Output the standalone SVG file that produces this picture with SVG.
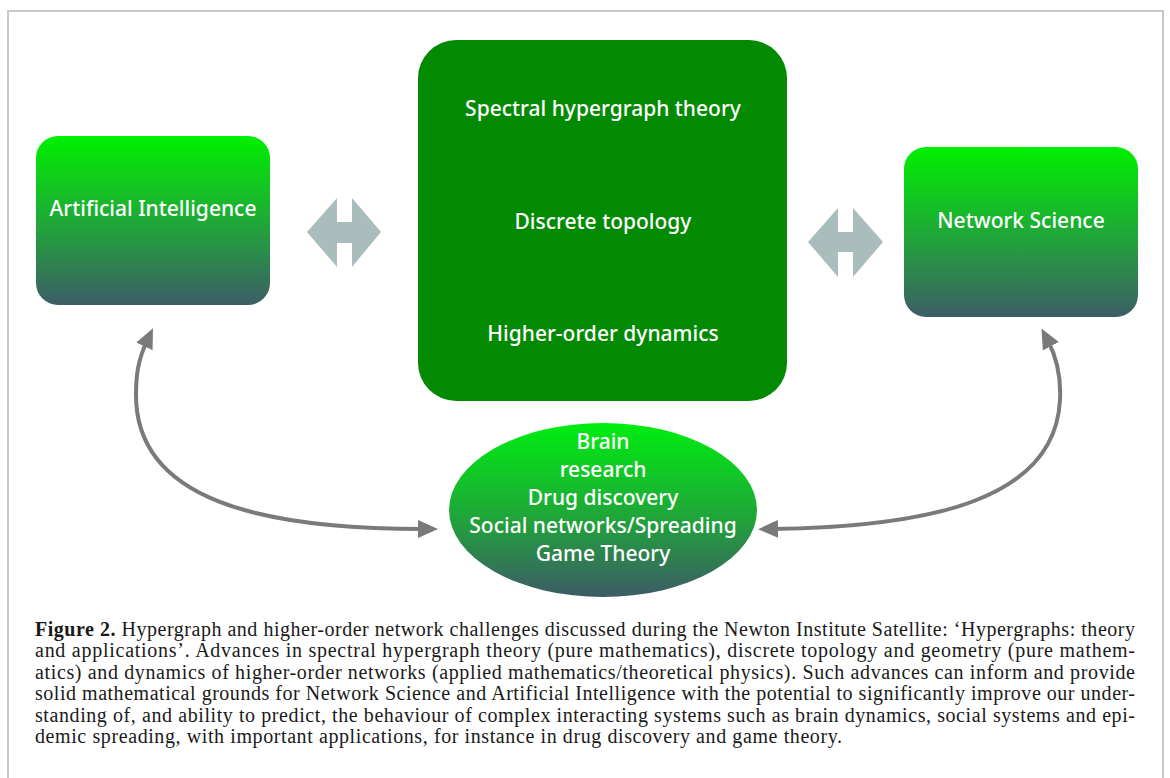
<svg xmlns="http://www.w3.org/2000/svg" width="1170" height="778" viewBox="0 0 1170 778">
<style>
.node-text{font-family:"Noto Sans","Open Sans",sans-serif;font-size:21px;fill:#ffffff;text-anchor:middle;font-weight:500}
.ell-text{font-family:"Noto Sans","Open Sans",sans-serif;font-size:21px;fill:#ffffff;text-anchor:middle;font-weight:500}
.cap{font-family:"Liberation Serif","Times New Roman",serif;font-size:20px;fill:#1a1a1a}
.curve{fill:none;stroke:#7a7a7a;stroke-width:4}
.dbl{fill:#a9bdbd}
</style>
<defs>
<linearGradient id="boxGrad" x1="0" y1="0" x2="0" y2="1">
<stop offset="0" stop-color="#00f000"/>
<stop offset="0.55" stop-color="#22a23c"/>
<stop offset="1" stop-color="#3d5d66"/>
</linearGradient>
<linearGradient id="ellGrad" x1="0" y1="0" x2="0" y2="1">
<stop offset="0" stop-color="#00ee10"/>
<stop offset="0.55" stop-color="#20a43a"/>
<stop offset="1" stop-color="#3d5b66"/>
</linearGradient>
<marker id="arrow" viewBox="0 0 20 20" markerWidth="20" markerHeight="20" markerUnits="userSpaceOnUse" refX="6" refY="10" orient="auto-start-reverse">
<path d="M0,1 L20,10 L0,19 z" fill="#7a7a7a"/>
</marker>
</defs>
<rect x="0" y="0" width="1170" height="778" fill="#ffffff"/>
<path d="M8 790 L8 11 L1163 11 L1163 790" fill="none" stroke="#c8c8c8" stroke-width="2"/>

<g id="connectors">
<path class="curve" d="M147 341 C138 360 136 375 136 395 C136 500 260 529 424 529" marker-start="url(#arrow)" marker-end="url(#arrow)"/>
<path class="curve" d="M1048 341 C1058 360 1061 380 1060 400 C1055 500 930 527 772 529" marker-start="url(#arrow)" marker-end="url(#arrow)"/>
<polygon class="dbl" points="307,232 337,198 337,222 352,222 352,198 381,232 352,267 352,243 337,243 337,267"/>
<polygon class="dbl" points="808,242 838,208 838,232 853,232 853,208 883,242 853,277 853,252 838,252 838,277"/>
</g>

<g id="node-ai">
<rect x="36" y="136" width="234" height="169" rx="22" fill="url(#boxGrad)"/>
<text class="node-text" x="153" y="216">Artificial Intelligence</text>
</g>

<g id="node-center">
<rect x="418" y="40" width="369" height="361" rx="38" fill="#038a03"/>
<text class="node-text" x="603" y="116">Spectral hypergraph theory</text>
<text class="node-text" x="603" y="229">Discrete topology</text>
<text class="node-text" x="603" y="341">Higher-order dynamics</text>
</g>

<g id="node-ns">
<rect x="904" y="147" width="234" height="170" rx="22" fill="url(#boxGrad)"/>
<text class="node-text" x="1021" y="228">Network Science</text>
</g>

<g id="node-applications">
<ellipse cx="603" cy="510" rx="154" ry="87" fill="url(#ellGrad)"/>
<text class="ell-text" x="603" y="449">Brain</text>
<text class="ell-text" x="603" y="477">research</text>
<text class="ell-text" x="603" y="505">Drug discovery</text>
<text class="ell-text" x="603" y="533">Social networks/Spreading</text>
<text class="ell-text" x="603" y="561">Game Theory</text>
</g>

<g id="caption">
<text class="cap" x="35" y="636" textLength="1100" lengthAdjust="spacing"><tspan font-weight="bold">Figure 2.</tspan> Hypergraph and higher-order network challenges discussed during the Newton Institute Satellite: ‘Hypergraphs: theory</text>
<text class="cap" x="35" y="657" textLength="1100" lengthAdjust="spacing">and applications’. Advances in spectral hypergraph theory (pure mathematics), discrete topology and geometry (pure mathem-</text>
<text class="cap" x="35" y="679" textLength="1100" lengthAdjust="spacing">atics) and dynamics of higher-order networks (applied mathematics/theoretical physics). Such advances can inform and provide</text>
<text class="cap" x="35" y="700" textLength="1100" lengthAdjust="spacing">solid mathematical grounds for Network Science and Artificial Intelligence with the potential to significantly improve our under-</text>
<text class="cap" x="35" y="722" textLength="1100" lengthAdjust="spacing">standing of, and ability to predict, the behaviour of complex interacting systems such as brain dynamics, social systems and epi-</text>
<text class="cap" x="35" y="743" textLength="807" lengthAdjust="spacing">demic spreading, with important applications, for instance in drug discovery and game theory.</text>
</g>
</svg>
